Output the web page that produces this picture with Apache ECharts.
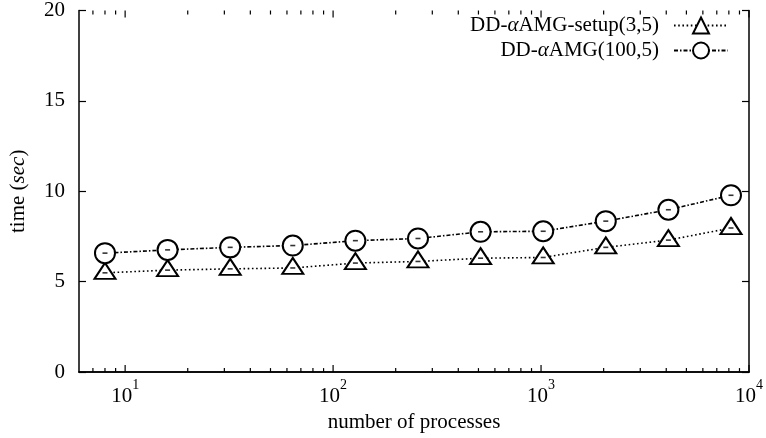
<!DOCTYPE html>
<html>
<head>
<meta charset="utf-8">
<script src="https://cdn.jsdelivr.net/npm/echarts@6/dist/echarts.min.js"></script>
<style>
  html, body { margin: 0; padding: 0; background: #fff; }
  #chart { width: 766px; height: 438px; }
</style>
</head>
<body>
<div id="chart"></div>
<script>
// 数据
var procs = [8, 16, 32, 64, 128, 256, 512, 1024, 2048, 4096, 8192];
var setupTimes = [5.49, 5.64, 5.71, 5.76, 6.03, 6.12, 6.30, 6.34, 6.9, 7.3, 7.97];
var solveTimes = [6.58, 6.76, 6.9, 7.0, 7.27, 7.39, 7.76, 7.79, 8.35, 8.98, 9.78];
var majorTicks = [10, 100, 1000, 10000];
var minorTicks = [7, 8, 9, 20, 30, 40, 50, 60, 70, 80, 90, 200, 300, 400, 500, 600, 700, 800, 900,
  2000, 3000, 4000, 5000, 6000, 7000, 8000, 9000];

var FONT = 'Liberation Serif';
var FS = 21;
var chart = echarts.init(document.getElementById('chart'));

function pairs(xs, ys) {
  return xs.map(function (x, i) { return [x, ys[i]]; });
}

// 上下两条边上的刻度（朝内）
function tickSeries(ticks, len) {
  return {
    type: 'custom',
    silent: true,
    xAxisIndex: 0,
    yAxisIndex: 0,
    data: ticks,
    renderItem: function (params, api) {
      var b = api.coord([api.value(0), 0]);
      var t = api.coord([api.value(0), 20]);
      var st = { stroke: '#000', lineWidth: 1.2 };
      return {
        type: 'group',
        children: [
          { type: 'line', shape: { x1: b[0], y1: b[1], x2: b[0], y2: b[1] - len }, style: st },
          { type: 'line', shape: { x1: t[0], y1: t[1], x2: t[0], y2: t[1] + len }, style: st }
        ]
      };
    },
    z: 1
  };
}

function centerDash(data) {
  return {
    type: 'scatter',
    silent: true,
    data: data,
    symbol: 'rect',
    symbolSize: [5, 1.6],
    itemStyle: { color: '#000' },
    z: 5
  };
}

chart.setOption({
  animation: false,
  backgroundColor: '#fff',
  textStyle: { fontFamily: FONT, color: '#000' },
  grid: { left: 76, right: 13, top: 8, bottom: 62 },
  legend: {
    orient: 'vertical',
    align: 'right',
    right: 32,
    top: 10,
    itemGap: 4,
    itemWidth: 54,
    itemHeight: 20,
    textStyle: {
      fontFamily: FONT, fontSize: FS, color: '#000',
      padding: [0, 10, 0, 0],
      rich: { a: { fontFamily: FONT, fontSize: FS, fontStyle: 'italic' } }
    },
    formatter: function (name) {
      return name.replace('α', '{a|α}');
    },
    data: ['DD-αAMG-setup(3,5)', 'DD-αAMG(100,5)']
  },
  xAxis: [{
    type: 'log',
    logBase: 10,
    min: 6,
    max: 10000,
    name: 'number of processes',
    nameLocation: 'middle',
    nameGap: 36,
    nameTextStyle: { fontFamily: FONT, fontSize: FS, color: '#000' },
    axisLine: { lineStyle: { color: '#000', width: 1.5 } },
    axisTick: { show: false },
    splitLine: { show: false },
    axisLabel: {
      fontFamily: FONT, fontSize: FS, color: '#000', margin: 6,
      formatter: function (v) {
        var e = Math.round(Math.log10(v));
        if (Math.abs(Math.pow(10, e) - v) > 1e-6) return '';
        return '{n|10}{s|' + e + '}';
      },
      rich: {
        n: { fontFamily: FONT, fontSize: FS, padding: [8, 0, 0, 0] },
        s: { fontFamily: FONT, fontSize: 14, verticalAlign: 'top' }
      }
    }
  }, {
    type: 'log',
    logBase: 10,
    min: 6,
    max: 10000,
    position: 'top',
    axisLine: { lineStyle: { color: '#000', width: 1.5 } },
    axisTick: { show: false },
    axisLabel: { show: false },
    splitLine: { show: false }
  }],
  yAxis: [{
    type: 'value',
    min: 0,
    max: 20,
    interval: 5,
    name: 'time ({i|sec})',
    nameLocation: 'middle',
    nameGap: 50,
    nameTextStyle: {
      fontFamily: FONT, fontSize: FS, color: '#000',
      rich: { i: { fontFamily: FONT, fontSize: FS, fontStyle: 'italic' } }
    },
    axisLine: { show: true, lineStyle: { color: '#000', width: 1.5 } },
    axisTick: { show: true, inside: true, length: 7, lineStyle: { color: '#000', width: 1.2 } },
    splitLine: { show: false },
    axisLabel: { fontFamily: FONT, fontSize: FS, color: '#000', margin: 14 }
  }, {
    type: 'value',
    min: 0,
    max: 20,
    interval: 5,
    position: 'right',
    axisLine: { show: true, lineStyle: { color: '#000', width: 1.5 } },
    axisTick: { show: true, inside: true, length: 7, lineStyle: { color: '#000', width: 1.2 } },
    splitLine: { show: false },
    axisLabel: { show: false }
  }],
  series: [
    tickSeries(majorTicks, 7),
    tickSeries(minorTicks, 4),
    {
      name: 'DD-αAMG-setup(3,5)',
      type: 'line',
      data: pairs(procs, setupTimes),
      symbol: 'triangle',
      symbolSize: [21, 16],
      symbolOffset: [0, -2],
      lineStyle: { color: '#000', width: 1.6, type: [1.6, 2.6] },
      itemStyle: { color: '#fff', borderColor: '#000', borderWidth: 2 },
      z: 3
    }, {
      name: 'DD-αAMG(100,5)',
      type: 'line',
      data: pairs(procs, solveTimes),
      symbol: 'circle',
      symbolSize: 20,
      lineStyle: { color: '#000', width: 1.6, type: [4, 2, 1.5, 2] },
      itemStyle: { color: '#fff', borderColor: '#000', borderWidth: 2 },
      z: 4
    },
    centerDash(pairs(procs, setupTimes)),
    centerDash(pairs(procs, solveTimes))
  ]
});
</script>
</body>
</html>
